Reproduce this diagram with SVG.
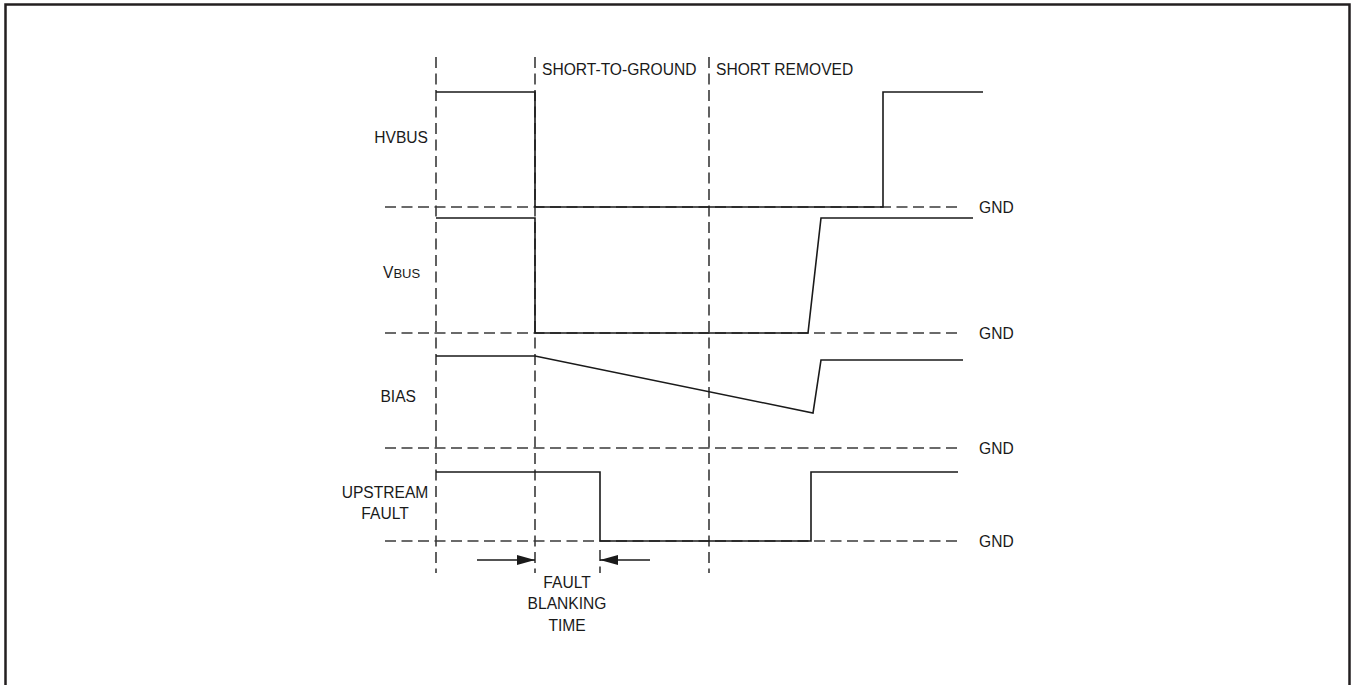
<svg xmlns="http://www.w3.org/2000/svg" width="1353" height="685" viewBox="0 0 1353 685">
<style>
.t{font-family:"Liberation Sans",Arial,sans-serif;font-size:15.6px;fill:#1a1a1a}
.s{font-size:13px}
.dash{stroke:#3a3a3a;stroke-width:1.6;stroke-dasharray:11 5.5;fill:none}
.w{stroke:#1a1a1a;stroke-width:1.6;fill:none}
</style>
<defs>
<marker id="ah" markerWidth="18" markerHeight="10" refX="18" refY="5" orient="auto" markerUnits="userSpaceOnUse">
<path d="M0,0 L18,5 L0,10 Z" fill="#1a1a1a"/>
</marker>
</defs>
<rect width="1353" height="685" fill="#fff"/>
<path d="M5.5,690 V4.5 H1349.5 V690" fill="none" stroke="#231f20" stroke-width="2.5"/>
<g id="grid">
<line class="dash" x1="436" y1="57" x2="436" y2="573"/>
<line class="dash" x1="535" y1="57" x2="535" y2="573"/>
<line class="dash" x1="709" y1="57" x2="709" y2="573"/>
<line class="dash" x1="600" y1="550" x2="600" y2="573"/>
<line class="dash" x1="385" y1="207" x2="958" y2="207"/>
<line class="dash" x1="385" y1="333" x2="958" y2="333"/>
<line class="dash" x1="385" y1="448" x2="958" y2="448"/>
<line class="dash" x1="385" y1="541" x2="958" y2="541"/>
</g>
<g id="connectors">
<polyline id="hvbus-wave" class="w" points="436,92 535,92 535,207 883,207 883,92 983,92"/>
<polyline id="vbus-wave" class="w" points="436,218 535,218 535,333 808,333 821,218 973,218"/>
<polyline id="bias-wave" class="w" points="436,356 535,356 813,413 821,360 963,360"/>
<polyline id="fault-wave" class="w" points="436,472 600,472 600,541 811,541 811,472 958,472"/>
<line class="w" x1="477" y1="560" x2="535" y2="560" marker-end="url(#ah)"/>
<line class="w" x1="650" y1="560" x2="600" y2="560" marker-end="url(#ah)"/>
</g>
<g id="labels">
<text class="t" x="542" y="75">SHORT-TO-GROUND</text>
<text class="t" x="716" y="75">SHORT REMOVED</text>
<text class="t" x="428" y="143" text-anchor="end">HVBUS</text>
<text class="t" x="383" y="278">V<tspan class="s">BUS</tspan></text>
<text class="t" x="416" y="402" text-anchor="end">BIAS</text>
<text class="t" x="385" y="498" text-anchor="middle">UPSTREAM</text>
<text class="t" x="385" y="519" text-anchor="middle">FAULT</text>
<text class="t" x="567" y="588" text-anchor="middle">FAULT</text>
<text class="t" x="567" y="609" text-anchor="middle">BLANKING</text>
<text class="t" x="567" y="631" text-anchor="middle">TIME</text>
<text class="t" x="979" y="213">GND</text>
<text class="t" x="979" y="339">GND</text>
<text class="t" x="979" y="454">GND</text>
<text class="t" x="979" y="547">GND</text>
</g>
</svg>
